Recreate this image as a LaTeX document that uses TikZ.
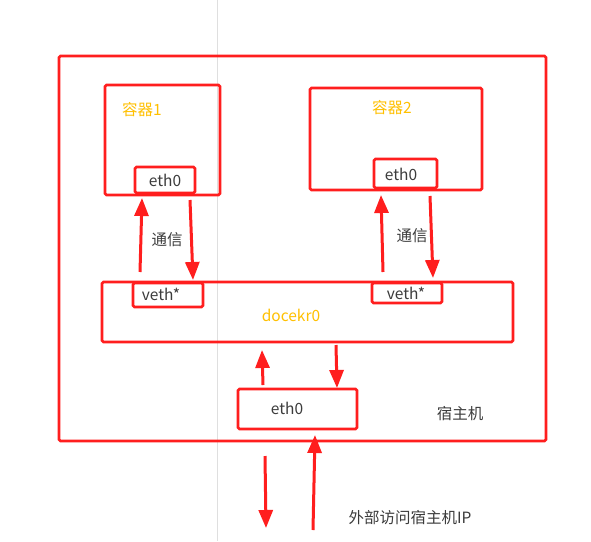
\documentclass[tikz,border=0pt]{standalone}
\usepackage{fontspec}
\setmainfont{Noto Sans CJK SC}
\usetikzlibrary{arrows.meta}
\definecolor{boxred}{RGB}{255,30,30}
\definecolor{gold}{RGB}{255,192,0}
\definecolor{txt}{RGB}{60,60,60}
\begin{document}
\begin{tikzpicture}[x=1pt,y=-1pt,
  box/.style={draw=boxred, line width=2.8pt, rounded corners=1.5pt, inner sep=0pt},
  lbl/.style={text=txt, font=\fontsize{15.5}{18}\selectfont, inner sep=0pt},
  glbl/.style={text=gold, font=\fontsize{15.5}{18}\selectfont, inner sep=0pt},
  bigarrow/.style={draw=boxred, line width=3pt, -{Triangle[length=18pt,width=14pt]}}]
\useasboundingbox (0,0) rectangle (591,541);
\fill[white] (0,0) rectangle (591,541);
\draw[gray!25, line width=0.8pt] (217,0) -- (217,541);
% host
\node[box, minimum width=487pt, minimum height=385pt] (host) at (302.5,248.5) {};
\node[lbl] (hostlbl) at (460,414) {宿主机};
% container 1
\node[box, minimum width=115pt, minimum height=110pt] (c1) at (162.5,140) {};
\node[glbl] (c1lbl) at (142,110) {容器1};
\node[box, fill=white, minimum width=60pt, minimum height=26pt] (e1) at (165,180) {};
\node[lbl] (e1lbl) at (e1) {eth0};
% container 2
\node[box, minimum width=172pt, minimum height=102pt] (c2) at (396,139) {};
\node[glbl] (c2lbl) at (392,108) {容器2};
\node[box, fill=white, minimum width=63pt, minimum height=29pt] (e2) at (405.5,173.5) {};
\node[lbl] (e2lbl) at (401,174) {eth0};
% docker0
\node[box, minimum width=411pt, minimum height=60pt] (br) at (307.5,312) {};
\node[glbl] (brlbl) at (291,315) {docekr0};
\node[box, fill=white, minimum width=70pt, minimum height=24pt] (v1) at (168,295) {};
\node[lbl] (v1lbl) at (161,294) {veth*};
\node[box, fill=white, minimum width=70pt, minimum height=20pt] (v2) at (407,293) {};
\node[lbl] (v2lbl) at (406,293) {veth*};
% host eth0
\node[box, minimum width=119pt, minimum height=40pt] (he) at (297.5,409) {};
\node[lbl] (helbl) at (287,408) {eth0};
% labels
\node[lbl] (t1) at (167,240) {通信};
\node[lbl] (t2) at (412,236) {通信};
\node[lbl] (ext) at (410,518) {外部访问宿主机IP};
% arrow coordinates
\coordinate (a1s) at (140,272); \coordinate (a1e) at (142,198);
\coordinate (a2s) at (190,200); \coordinate (a2e) at (193,280);
\coordinate (a3s) at (383,272); \coordinate (a3e) at (381,195);
\coordinate (a4s) at (430,196); \coordinate (a4e) at (433,278);
\coordinate (a5s) at (263,385); \coordinate (a5e) at (262,350);
\coordinate (a6s) at (336,345); \coordinate (a6e) at (337,388);
\coordinate (a7s) at (265,456); \coordinate (a7e) at (266,528);
\coordinate (a8s) at (313,530); \coordinate (a8e) at (315,435);
\foreach \i in {1,...,8} \draw[bigarrow] (a\i s) -- (a\i e);
\end{tikzpicture}
\end{document}
